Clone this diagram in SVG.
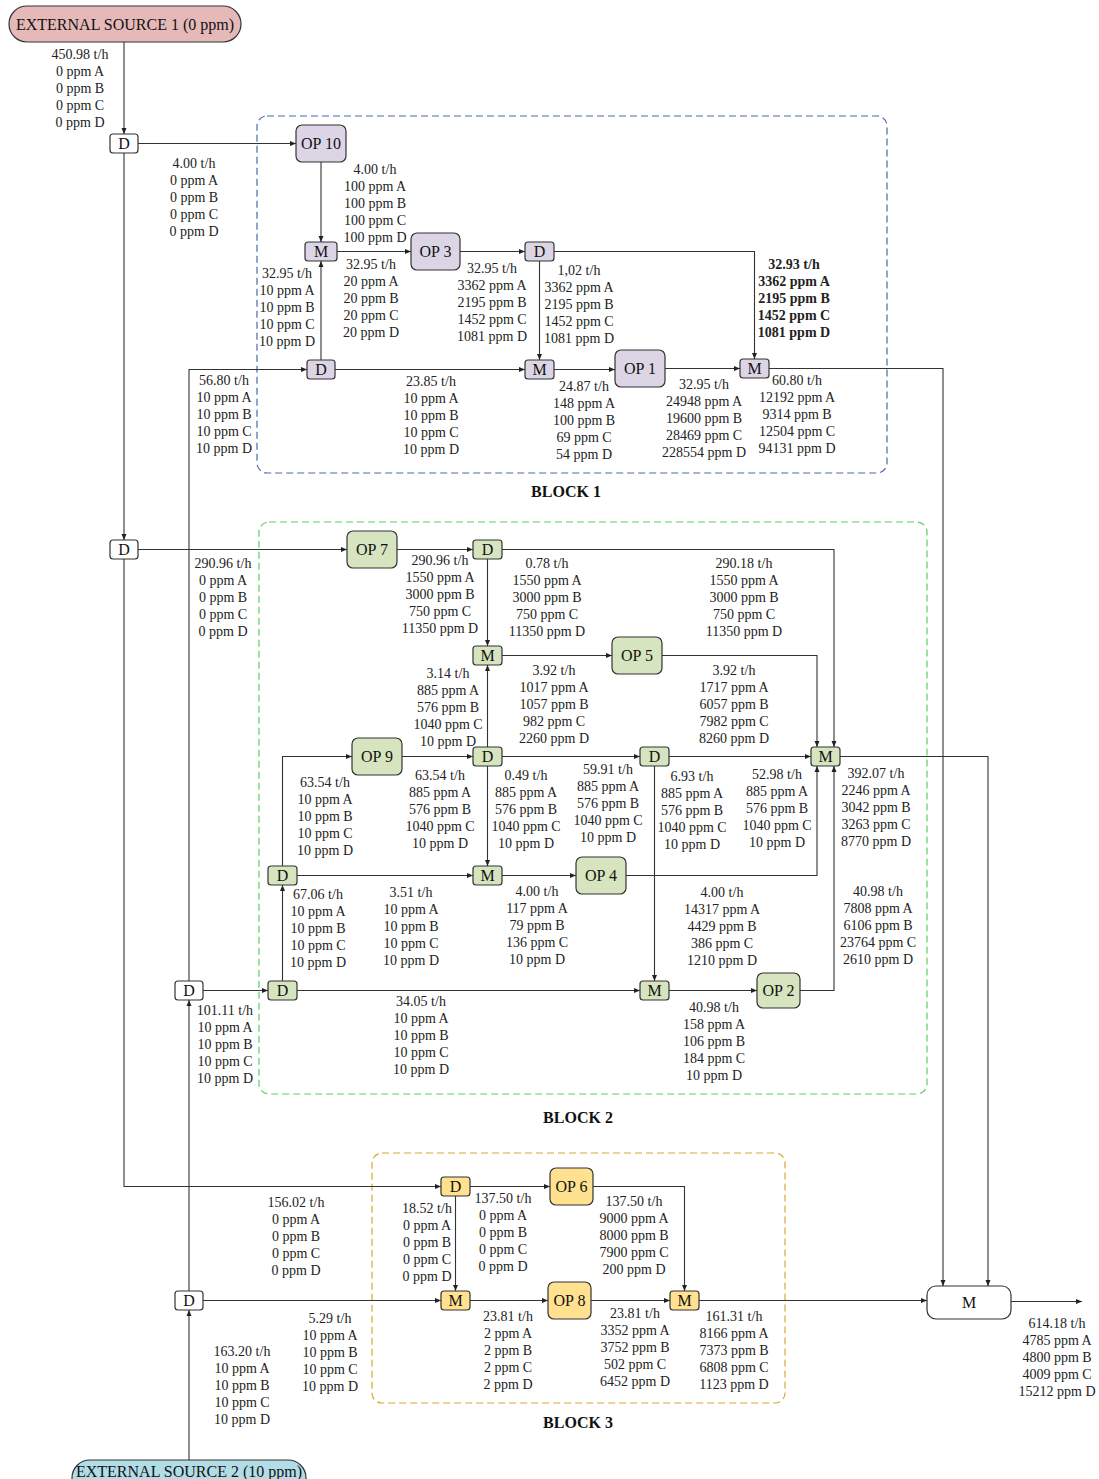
<svg xmlns="http://www.w3.org/2000/svg" width="1099" height="1479" viewBox="0 0 1099 1479">
<defs>
<marker id="arr" markerWidth="6" markerHeight="6" refX="6" refY="3" orient="auto" markerUnits="userSpaceOnUse"><path d="M0,0.5 L6,3 L0,5.5 z" fill="#222"/></marker>
<style>
.lbl{font-family:"Liberation Serif","Times New Roman",serif;font-size:14px;text-anchor:middle;fill:#222}
.bold{font-weight:bold}
.nt{font-family:"Liberation Serif","Times New Roman",serif;font-size:16px;text-anchor:middle;fill:#111}
.blk{font-family:"Liberation Serif","Times New Roman",serif;font-size:16px;font-weight:bold;text-anchor:middle;fill:#111}
.n{stroke:#333;stroke-width:1.2}
.w{fill:#fff}
.p1{fill:#dcd5e5}
.p2{fill:#d6e4bf}
.p3{fill:#ffe18f}
.conn path{fill:none;stroke:#333;stroke-width:1.1;marker-end:url(#arr)}
.box{fill:none;stroke-width:1.2;stroke-dasharray:7 4}
</style>
</defs>
<rect width="1099" height="1479" fill="#fff"/>

<g id="blocks">
<rect class="box" x="257" y="116" width="630" height="357" rx="10" stroke="#4a6aa8"/>
<rect class="box" x="259" y="522" width="668" height="572" rx="10" stroke="#5ccf5c"/>
<rect class="box" x="372" y="1153" width="413" height="250" rx="10" stroke="#d9a830"/>
<text class="blk" x="566" y="497">BLOCK 1</text>
<text class="blk" x="578" y="1123">BLOCK 2</text>
<text class="blk" x="578" y="1428">BLOCK 3</text>
</g>

<g id="connectors" class="conn">
<path d="M124,42 V134"/>
<path d="M138,143.5 H296"/>
<path d="M124,153 V540"/>
<path d="M321,162 V242"/>
<path d="M321,360 V261"/>
<path d="M337,251.5 H411"/>
<path d="M460,251.5 H525"/>
<path d="M554,251.5 H754.5 V359"/>
<path d="M539.5,261 V360"/>
<path d="M335,369.5 H525"/>
<path d="M554,369.5 H615"/>
<path d="M665,368.5 H740"/>
<path d="M769,368.5 H943 V1286"/>
<path d="M189,981 V369.5 H307"/>
<path d="M138,549.5 H347"/>
<path d="M397,549.5 H473"/>
<path d="M487.5,559 V646"/>
<path d="M502,549.5 H834 V747"/>
<path d="M502,655.5 H612"/>
<path d="M662,655.5 H817 V747"/>
<path d="M487.5,747 V665"/>
<path d="M282.5,866 V756.5 H352"/>
<path d="M402,756.5 H473"/>
<path d="M502,756.5 H640"/>
<path d="M669,756.5 H811"/>
<path d="M487.5,766 V866"/>
<path d="M297,875.5 H473"/>
<path d="M502,875.5 H576"/>
<path d="M626,875.5 H817 V766"/>
<path d="M654.5,766 V981"/>
<path d="M282.5,981 V885"/>
<path d="M203,990.5 H268"/>
<path d="M297,990.5 H640"/>
<path d="M669,990.5 H757"/>
<path d="M800,990.5 H834 V766"/>
<path d="M840,756.5 H988 V1286"/>
<path d="M124,559 V1186.5 H441"/>
<path d="M470,1186.5 H550"/>
<path d="M593,1186.5 H684.5 V1291"/>
<path d="M455.5,1196 V1291"/>
<path d="M203,1300.5 H441"/>
<path d="M470,1300.5 H548"/>
<path d="M591,1300.5 H670"/>
<path d="M699,1300.5 H927"/>
<path d="M1011,1301.5 H1082"/>
<path d="M189,1460 V1310"/>
<path d="M189,1291 V1000"/>
</g>

<g id="src1"><rect class="n" x="9" y="6" width="232" height="36" rx="18" fill="#e6b9b9"/><text class="nt" x="125" y="29.5">EXTERNAL SOURCE 1 (0 ppm)</text></g>
<g id="src2"><rect class="n" x="72" y="1460" width="234" height="36" rx="18" fill="#b2dde7"/><text class="nt" x="189" y="1477">EXTERNAL SOURCE 2 (10 ppm)</text></g>

<g id="dA"><rect class="n w" x="110" y="134" width="28" height="19" rx="3"/><text class="nt" x="124" y="149">D</text></g>
<g id="dB"><rect class="n w" x="110" y="540" width="28" height="19" rx="3"/><text class="nt" x="124" y="555">D</text></g>
<g id="dC"><rect class="n w" x="175" y="981" width="28" height="19" rx="3"/><text class="nt" x="189" y="996">D</text></g>
<g id="dE"><rect class="n w" x="175" y="1291" width="28" height="19" rx="3"/><text class="nt" x="189" y="1306">D</text></g>

<g id="op10"><rect class="n p1" x="296" y="125" width="50" height="37" rx="6"/><text class="nt" x="321" y="149">OP 10</text></g>
<g id="m1a"><rect class="n p1" x="305" y="242" width="32" height="19" rx="3"/><text class="nt" x="321" y="257">M</text></g>
<g id="op3"><rect class="n p1" x="411" y="233" width="49" height="37" rx="6"/><text class="nt" x="435.5" y="257">OP 3</text></g>
<g id="d1a"><rect class="n p1" x="525" y="242" width="29" height="19" rx="3"/><text class="nt" x="539.5" y="257">D</text></g>
<g id="d1b"><rect class="n p1" x="307" y="360" width="28" height="19" rx="3"/><text class="nt" x="321" y="375">D</text></g>
<g id="m1b"><rect class="n p1" x="525" y="360" width="29" height="19" rx="3"/><text class="nt" x="539.5" y="375">M</text></g>
<g id="op1"><rect class="n p1" x="615" y="350" width="50" height="37" rx="6"/><text class="nt" x="640" y="374">OP 1</text></g>
<g id="m1c"><rect class="n p1" x="740" y="359" width="29" height="19" rx="3"/><text class="nt" x="754.5" y="374">M</text></g>

<g id="op7"><rect class="n p2" x="347" y="531" width="50" height="37" rx="6"/><text class="nt" x="372" y="555">OP 7</text></g>
<g id="d2a"><rect class="n p2" x="473" y="540" width="29" height="19" rx="3"/><text class="nt" x="487.5" y="555">D</text></g>
<g id="m2a"><rect class="n p2" x="473" y="646" width="29" height="19" rx="3"/><text class="nt" x="487.5" y="661">M</text></g>
<g id="op5"><rect class="n p2" x="612" y="637" width="50" height="37" rx="6"/><text class="nt" x="637" y="661">OP 5</text></g>
<g id="op9"><rect class="n p2" x="352" y="738" width="50" height="37" rx="6"/><text class="nt" x="377" y="762">OP 9</text></g>
<g id="d2b"><rect class="n p2" x="473" y="747" width="29" height="19" rx="3"/><text class="nt" x="487.5" y="762">D</text></g>
<g id="d2c"><rect class="n p2" x="640" y="747" width="29" height="19" rx="3"/><text class="nt" x="654.5" y="762">D</text></g>
<g id="m2b"><rect class="n p2" x="811" y="747" width="29" height="19" rx="3"/><text class="nt" x="825.5" y="762">M</text></g>
<g id="d2d"><rect class="n p2" x="268" y="866" width="29" height="19" rx="3"/><text class="nt" x="282.5" y="881">D</text></g>
<g id="m2c"><rect class="n p2" x="473" y="866" width="29" height="19" rx="3"/><text class="nt" x="487.5" y="881">M</text></g>
<g id="op4"><rect class="n p2" x="576" y="857" width="50" height="37" rx="6"/><text class="nt" x="601" y="881">OP 4</text></g>
<g id="d2e"><rect class="n p2" x="268" y="981" width="29" height="19" rx="3"/><text class="nt" x="282.5" y="996">D</text></g>
<g id="m2d"><rect class="n p2" x="640" y="981" width="29" height="19" rx="3"/><text class="nt" x="654.5" y="996">M</text></g>
<g id="op2"><rect class="n p2" x="757" y="973" width="43" height="35" rx="6"/><text class="nt" x="778.5" y="996">OP 2</text></g>

<g id="d3a"><rect class="n p3" x="441" y="1177" width="29" height="19" rx="3"/><text class="nt" x="455.5" y="1192">D</text></g>
<g id="op6"><rect class="n p3" x="550" y="1168" width="43" height="37" rx="6"/><text class="nt" x="571.5" y="1192">OP 6</text></g>
<g id="m3a"><rect class="n p3" x="441" y="1291" width="29" height="19" rx="3"/><text class="nt" x="455.5" y="1306">M</text></g>
<g id="op8"><rect class="n p3" x="548" y="1282" width="43" height="37" rx="6"/><text class="nt" x="569.5" y="1306">OP 8</text></g>
<g id="m3b"><rect class="n p3" x="670" y="1291" width="29" height="19" rx="3"/><text class="nt" x="684.5" y="1306">M</text></g>
<g id="mF"><rect class="n w" x="927" y="1286" width="84" height="33" rx="9"/><text class="nt" x="969" y="1308">M</text></g>

<g id="labels">
<text class="lbl" y="59"><tspan x="80">450.98 t/h</tspan><tspan x="80" dy="17">0 ppm A</tspan><tspan x="80" dy="17">0 ppm B</tspan><tspan x="80" dy="17">0 ppm C</tspan><tspan x="80" dy="17">0 ppm D</tspan></text>
<text class="lbl" y="168"><tspan x="194">4.00 t/h</tspan><tspan x="194" dy="17">0 ppm A</tspan><tspan x="194" dy="17">0 ppm B</tspan><tspan x="194" dy="17">0 ppm C</tspan><tspan x="194" dy="17">0 ppm D</tspan></text>
<text class="lbl" y="174"><tspan x="375">4.00 t/h</tspan><tspan x="375" dy="17">100 ppm A</tspan><tspan x="375" dy="17">100 ppm B</tspan><tspan x="375" dy="17">100 ppm C</tspan><tspan x="375" dy="17">100 ppm D</tspan></text>
<text class="lbl" y="278"><tspan x="287">32.95 t/h</tspan><tspan x="287" dy="17">10 ppm A</tspan><tspan x="287" dy="17">10 ppm B</tspan><tspan x="287" dy="17">10 ppm C</tspan><tspan x="287" dy="17">10 ppm D</tspan></text>
<text class="lbl" y="269"><tspan x="371">32.95 t/h</tspan><tspan x="371" dy="17">20 ppm A</tspan><tspan x="371" dy="17">20 ppm B</tspan><tspan x="371" dy="17">20 ppm C</tspan><tspan x="371" dy="17">20 ppm D</tspan></text>
<text class="lbl" y="273"><tspan x="492">32.95 t/h</tspan><tspan x="492" dy="17">3362 ppm A</tspan><tspan x="492" dy="17">2195 ppm B</tspan><tspan x="492" dy="17">1452 ppm C</tspan><tspan x="492" dy="17">1081 ppm D</tspan></text>
<text class="lbl" y="275"><tspan x="579">1,02 t/h</tspan><tspan x="579" dy="17">3362 ppm A</tspan><tspan x="579" dy="17">2195 ppm B</tspan><tspan x="579" dy="17">1452 ppm C</tspan><tspan x="579" dy="17">1081 ppm D</tspan></text>
<text class="lbl bold" y="269"><tspan x="794">32.93 t/h</tspan><tspan x="794" dy="17">3362 ppm A</tspan><tspan x="794" dy="17">2195 ppm B</tspan><tspan x="794" dy="17">1452 ppm C</tspan><tspan x="794" dy="17">1081 ppm D</tspan></text>
<text class="lbl" y="385"><tspan x="224">56.80 t/h</tspan><tspan x="224" dy="17">10 ppm A</tspan><tspan x="224" dy="17">10 ppm B</tspan><tspan x="224" dy="17">10 ppm C</tspan><tspan x="224" dy="17">10 ppm D</tspan></text>
<text class="lbl" y="386"><tspan x="431">23.85 t/h</tspan><tspan x="431" dy="17">10 ppm A</tspan><tspan x="431" dy="17">10 ppm B</tspan><tspan x="431" dy="17">10 ppm C</tspan><tspan x="431" dy="17">10 ppm D</tspan></text>
<text class="lbl" y="391"><tspan x="584">24.87 t/h</tspan><tspan x="584" dy="17">148 ppm A</tspan><tspan x="584" dy="17">100 ppm B</tspan><tspan x="584" dy="17">69 ppm C</tspan><tspan x="584" dy="17">54 ppm D</tspan></text>
<text class="lbl" y="389"><tspan x="704">32.95 t/h</tspan><tspan x="704" dy="17">24948 ppm A</tspan><tspan x="704" dy="17">19600 ppm B</tspan><tspan x="704" dy="17">28469 ppm C</tspan><tspan x="704" dy="17">228554 ppm D</tspan></text>
<text class="lbl" y="385"><tspan x="797">60.80 t/h</tspan><tspan x="797" dy="17">12192 ppm A</tspan><tspan x="797" dy="17">9314 ppm B</tspan><tspan x="797" dy="17">12504 ppm C</tspan><tspan x="797" dy="17">94131 ppm D</tspan></text>

<text class="lbl" y="568"><tspan x="223">290.96 t/h</tspan><tspan x="223" dy="17">0 ppm A</tspan><tspan x="223" dy="17">0 ppm B</tspan><tspan x="223" dy="17">0 ppm C</tspan><tspan x="223" dy="17">0 ppm D</tspan></text>
<text class="lbl" y="565"><tspan x="440">290.96 t/h</tspan><tspan x="440" dy="17">1550 ppm A</tspan><tspan x="440" dy="17">3000 ppm B</tspan><tspan x="440" dy="17">750 ppm C</tspan><tspan x="440" dy="17">11350 ppm D</tspan></text>
<text class="lbl" y="568"><tspan x="547">0.78 t/h</tspan><tspan x="547" dy="17">1550 ppm A</tspan><tspan x="547" dy="17">3000 ppm B</tspan><tspan x="547" dy="17">750 ppm C</tspan><tspan x="547" dy="17">11350 ppm D</tspan></text>
<text class="lbl" y="568"><tspan x="744">290.18 t/h</tspan><tspan x="744" dy="17">1550 ppm A</tspan><tspan x="744" dy="17">3000 ppm B</tspan><tspan x="744" dy="17">750 ppm C</tspan><tspan x="744" dy="17">11350 ppm D</tspan></text>
<text class="lbl" y="678"><tspan x="448">3.14 t/h</tspan><tspan x="448" dy="17">885 ppm A</tspan><tspan x="448" dy="17">576 ppm B</tspan><tspan x="448" dy="17">1040 ppm C</tspan><tspan x="448" dy="17">10 ppm D</tspan></text>
<text class="lbl" y="675"><tspan x="554">3.92 t/h</tspan><tspan x="554" dy="17">1017 ppm A</tspan><tspan x="554" dy="17">1057 ppm B</tspan><tspan x="554" dy="17">982 ppm C</tspan><tspan x="554" dy="17">2260 ppm D</tspan></text>
<text class="lbl" y="675"><tspan x="734">3.92 t/h</tspan><tspan x="734" dy="17">1717 ppm A</tspan><tspan x="734" dy="17">6057 ppm B</tspan><tspan x="734" dy="17">7982 ppm C</tspan><tspan x="734" dy="17">8260 ppm D</tspan></text>
<text class="lbl" y="787"><tspan x="325">63.54 t/h</tspan><tspan x="325" dy="17">10 ppm A</tspan><tspan x="325" dy="17">10 ppm B</tspan><tspan x="325" dy="17">10 ppm C</tspan><tspan x="325" dy="17">10 ppm D</tspan></text>
<text class="lbl" y="780"><tspan x="440">63.54 t/h</tspan><tspan x="440" dy="17">885 ppm A</tspan><tspan x="440" dy="17">576 ppm B</tspan><tspan x="440" dy="17">1040 ppm C</tspan><tspan x="440" dy="17">10 ppm D</tspan></text>
<text class="lbl" y="780"><tspan x="526">0.49 t/h</tspan><tspan x="526" dy="17">885 ppm A</tspan><tspan x="526" dy="17">576 ppm B</tspan><tspan x="526" dy="17">1040 ppm C</tspan><tspan x="526" dy="17">10 ppm D</tspan></text>
<text class="lbl" y="774"><tspan x="608">59.91 t/h</tspan><tspan x="608" dy="17">885 ppm A</tspan><tspan x="608" dy="17">576 ppm B</tspan><tspan x="608" dy="17">1040 ppm C</tspan><tspan x="608" dy="17">10 ppm D</tspan></text>
<text class="lbl" y="781"><tspan x="692">6.93 t/h</tspan><tspan x="692" dy="17">885 ppm A</tspan><tspan x="692" dy="17">576 ppm B</tspan><tspan x="692" dy="17">1040 ppm C</tspan><tspan x="692" dy="17">10 ppm D</tspan></text>
<text class="lbl" y="779"><tspan x="777">52.98 t/h</tspan><tspan x="777" dy="17">885 ppm A</tspan><tspan x="777" dy="17">576 ppm B</tspan><tspan x="777" dy="17">1040 ppm C</tspan><tspan x="777" dy="17">10 ppm D</tspan></text>
<text class="lbl" y="778"><tspan x="876">392.07 t/h</tspan><tspan x="876" dy="17">2246 ppm A</tspan><tspan x="876" dy="17">3042 ppm B</tspan><tspan x="876" dy="17">3263 ppm C</tspan><tspan x="876" dy="17">8770 ppm D</tspan></text>
<text class="lbl" y="899"><tspan x="318">67.06 t/h</tspan><tspan x="318" dy="17">10 ppm A</tspan><tspan x="318" dy="17">10 ppm B</tspan><tspan x="318" dy="17">10 ppm C</tspan><tspan x="318" dy="17">10 ppm D</tspan></text>
<text class="lbl" y="897"><tspan x="411">3.51 t/h</tspan><tspan x="411" dy="17">10 ppm A</tspan><tspan x="411" dy="17">10 ppm B</tspan><tspan x="411" dy="17">10 ppm C</tspan><tspan x="411" dy="17">10 ppm D</tspan></text>
<text class="lbl" y="896"><tspan x="537">4.00 t/h</tspan><tspan x="537" dy="17">117 ppm A</tspan><tspan x="537" dy="17">79 ppm B</tspan><tspan x="537" dy="17">136 ppm C</tspan><tspan x="537" dy="17">10 ppm D</tspan></text>
<text class="lbl" y="897"><tspan x="722">4.00 t/h</tspan><tspan x="722" dy="17">14317 ppm A</tspan><tspan x="722" dy="17">4429 ppm B</tspan><tspan x="722" dy="17">386 ppm C</tspan><tspan x="722" dy="17">1210 ppm D</tspan></text>
<text class="lbl" y="896"><tspan x="878">40.98 t/h</tspan><tspan x="878" dy="17">7808 ppm A</tspan><tspan x="878" dy="17">6106 ppm B</tspan><tspan x="878" dy="17">23764 ppm C</tspan><tspan x="878" dy="17">2610 ppm D</tspan></text>
<text class="lbl" y="1015"><tspan x="225">101.11 t/h</tspan><tspan x="225" dy="17">10 ppm A</tspan><tspan x="225" dy="17">10 ppm B</tspan><tspan x="225" dy="17">10 ppm C</tspan><tspan x="225" dy="17">10 ppm D</tspan></text>
<text class="lbl" y="1006"><tspan x="421">34.05 t/h</tspan><tspan x="421" dy="17">10 ppm A</tspan><tspan x="421" dy="17">10 ppm B</tspan><tspan x="421" dy="17">10 ppm C</tspan><tspan x="421" dy="17">10 ppm D</tspan></text>
<text class="lbl" y="1012"><tspan x="714">40.98 t/h</tspan><tspan x="714" dy="17">158 ppm A</tspan><tspan x="714" dy="17">106 ppm B</tspan><tspan x="714" dy="17">184 ppm C</tspan><tspan x="714" dy="17">10 ppm D</tspan></text>

<text class="lbl" y="1207"><tspan x="296">156.02 t/h</tspan><tspan x="296" dy="17">0 ppm A</tspan><tspan x="296" dy="17">0 ppm B</tspan><tspan x="296" dy="17">0 ppm C</tspan><tspan x="296" dy="17">0 ppm D</tspan></text>
<text class="lbl" y="1213"><tspan x="427">18.52 t/h</tspan><tspan x="427" dy="17">0 ppm A</tspan><tspan x="427" dy="17">0 ppm B</tspan><tspan x="427" dy="17">0 ppm C</tspan><tspan x="427" dy="17">0 ppm D</tspan></text>
<text class="lbl" y="1203"><tspan x="503">137.50 t/h</tspan><tspan x="503" dy="17">0 ppm A</tspan><tspan x="503" dy="17">0 ppm B</tspan><tspan x="503" dy="17">0 ppm C</tspan><tspan x="503" dy="17">0 ppm D</tspan></text>
<text class="lbl" y="1206"><tspan x="634">137.50 t/h</tspan><tspan x="634" dy="17">9000 ppm A</tspan><tspan x="634" dy="17">8000 ppm B</tspan><tspan x="634" dy="17">7900 ppm C</tspan><tspan x="634" dy="17">200 ppm D</tspan></text>
<text class="lbl" y="1323"><tspan x="330">5.29 t/h</tspan><tspan x="330" dy="17">10 ppm A</tspan><tspan x="330" dy="17">10 ppm B</tspan><tspan x="330" dy="17">10 ppm C</tspan><tspan x="330" dy="17">10 ppm D</tspan></text>
<text class="lbl" y="1356"><tspan x="242">163.20 t/h</tspan><tspan x="242" dy="17">10 ppm A</tspan><tspan x="242" dy="17">10 ppm B</tspan><tspan x="242" dy="17">10 ppm C</tspan><tspan x="242" dy="17">10 ppm D</tspan></text>
<text class="lbl" y="1321"><tspan x="508">23.81 t/h</tspan><tspan x="508" dy="17">2 ppm A</tspan><tspan x="508" dy="17">2 ppm B</tspan><tspan x="508" dy="17">2 ppm C</tspan><tspan x="508" dy="17">2 ppm D</tspan></text>
<text class="lbl" y="1318"><tspan x="635">23.81 t/h</tspan><tspan x="635" dy="17">3352 ppm A</tspan><tspan x="635" dy="17">3752 ppm B</tspan><tspan x="635" dy="17">502 ppm C</tspan><tspan x="635" dy="17">6452 ppm D</tspan></text>
<text class="lbl" y="1321"><tspan x="734">161.31 t/h</tspan><tspan x="734" dy="17">8166 ppm A</tspan><tspan x="734" dy="17">7373 ppm B</tspan><tspan x="734" dy="17">6808 ppm C</tspan><tspan x="734" dy="17">1123 ppm D</tspan></text>
<text class="lbl" y="1328"><tspan x="1057">614.18 t/h</tspan><tspan x="1057" dy="17">4785 ppm A</tspan><tspan x="1057" dy="17">4800 ppm B</tspan><tspan x="1057" dy="17">4009 ppm C</tspan><tspan x="1057" dy="17">15212 ppm D</tspan></text>
</g>
</svg>
